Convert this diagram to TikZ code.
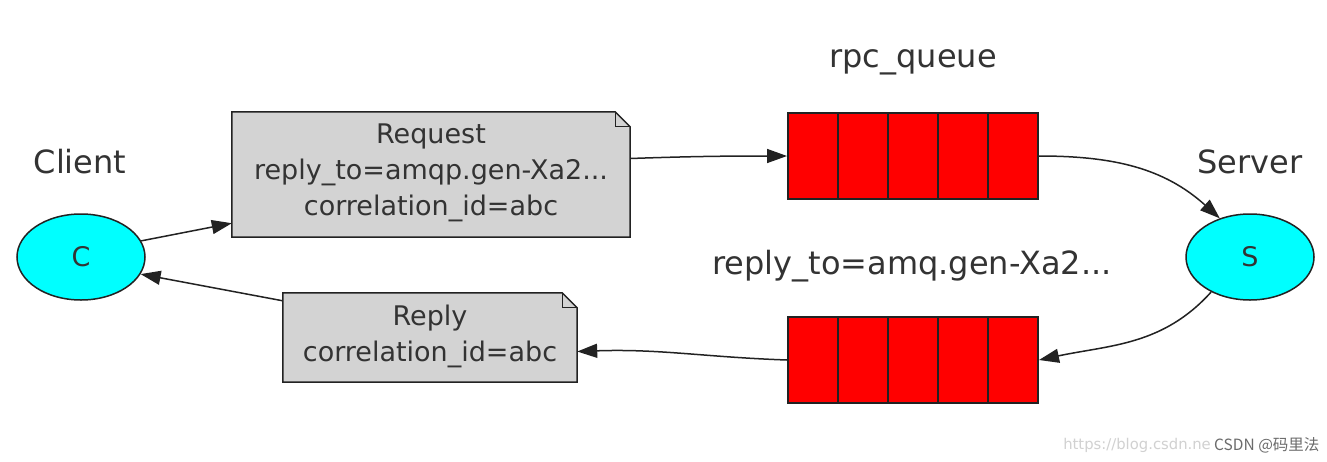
\documentclass[tikz,border=0pt]{standalone}
\usepackage{fontspec}
\setmainfont{DejaVu Sans}
\newfontfamily\cjk{Noto Sans CJK SC}
\usetikzlibrary{arrows.meta,shapes.geometric}
\definecolor{txt}{HTML}{333333}
\definecolor{notefill}{HTML}{D3D3D3}
\definecolor{edge}{HTML}{222222}
\definecolor{peerfill}{HTML}{00FFFF}
\definecolor{qfill}{HTML}{FF0000}
\tikzset{
  lbl/.style={text=txt, font=\fontsize{32}{38}\selectfont, inner sep=0pt},
  ntext/.style={text=txt, font=\fontsize{27}{36}\selectfont, align=center, inner sep=0pt},
  peer/.style={ellipse, draw=edge, line width=1.5pt, fill=peerfill, minimum width=128pt, minimum height=86pt, inner sep=0pt, text=txt, font=\fontsize{27}{32}\selectfont},
  notebox/.style={rectangle, minimum width=398pt, minimum height=125pt, inner sep=0pt},
  queue/.style={rectangle, draw=edge, line width=2pt, fill=qfill, minimum width=250pt, minimum height=86pt, inner sep=0pt,
    path picture={\foreach \i in {1,...,4}{\draw[edge, line width=2pt] ([xshift=\i*50pt]path picture bounding box.south west) -- ([xshift=\i*50pt]path picture bounding box.north west);}}},
  conn/.style={draw=edge, line width=1.5pt, -{Triangle[length=20pt,width=14pt]}},
}
\newcommand{\notepath}[1]{%
  \draw[draw=edge, line width=1.5pt, fill=notefill]
    (#1.south west) -- (#1.north west) -- ([xshift=-15pt]#1.north east)
    -- ([yshift=-15pt]#1.north east) -- (#1.south east) -- cycle;
  \draw[draw=edge, line width=1.2pt]
    ([xshift=-15pt]#1.north east) -- ([xshift=-15pt,yshift=-15pt]#1.north east) -- ([yshift=-15pt]#1.north east);}
\begin{document}
\begin{tikzpicture}[x=1pt,y=-1pt]
\useasboundingbox[fill=white] (0,0) rectangle (1327,461);
% nodes
\node[peer] (C) at (81,257) {C};
\node[peer] (S) at (1250,257) {S};
\node[lbl] (clientlbl) at (80,162) {Client};
\node[lbl] (serverlbl) at (1250,162) {Server};
\node[lbl] (rpclbl) at (913,62) {rpc\_queue};
\node[lbl] (replylbl) at (912,266) {reply\_to=amq.gen-Xa2...};
\node[notebox] (req) at (431,174.5) {};
\notepath{req}
\node[ntext] (reqtext) at (431,173) {Request\\reply\_to=amqp.gen-Xa2...\\correlation\_id=abc};
\node[notebox, minimum width=294pt, minimum height=89pt] (rep) at (430,337.5) {};
\notepath{rep}
\node[ntext] (reptext) at (430,336) {Reply\\correlation\_id=abc};
\node[queue] (q1) at (913,156) {};
\node[queue] (q2) at (913,360) {};
% connectors
\draw[conn] (C.15) -- ([yshift=14pt]req.south west);
\draw[conn] ([yshift=16pt]req.east) to[out=2,in=180] (q1.west);
\draw[conn] (q1.east) to[out=0,in=138] (S.128);
\draw[conn] (S.222) to[out=228,in=12] (q2.east);
\draw[conn] (q2.west) to[out=178,in=2] ([yshift=-14pt]rep.east);
\draw[conn] ([yshift=-8pt]rep.north west) -- (C.-16);
% watermark
\node[anchor=east, inner sep=0pt, text=black!18, font=\fontsize{14.8}{18}\selectfont] (url) at (1211,445) {https://blog.csdn.ne};
\node[anchor=west, inner sep=0pt, text=black!58, font=\cjk\fontsize{15.5}{18}\selectfont] (csdn) at (1214,445) {CSDN @码里法};
\end{tikzpicture}
\end{document}
